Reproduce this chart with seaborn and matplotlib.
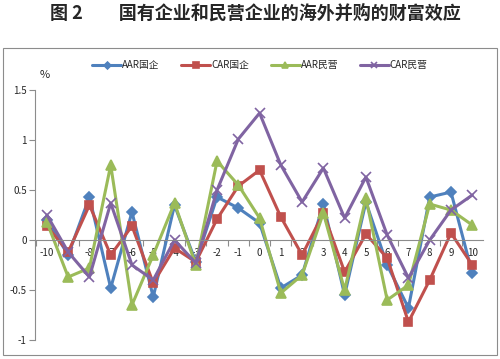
import matplotlib
matplotlib.use("Agg")
import matplotlib.pyplot as plt
import seaborn as sns
from matplotlib.patches import Rectangle

# event days and abnormal returns (%)
days = list(range(-10, 11))
aar_soe = [0.20, -0.15, 0.43, -0.48, 0.28, -0.57, 0.35, -0.22, 0.43, 0.32, 0.17,
           -0.48, -0.35, 0.36, -0.55, 0.38, -0.25, -0.68, 0.43, 0.48, -0.33]
car_soe = [0.14, -0.12, 0.35, -0.15, 0.14, -0.43, -0.08, -0.22, 0.21, 0.54, 0.70,
           0.23, -0.15, 0.27, -0.32, 0.06, -0.18, -0.82, -0.40, 0.07, -0.25]
aar_pri = [0.18, -0.37, -0.28, 0.75, -0.65, -0.15, 0.37, -0.25, 0.79, 0.55, 0.22,
           -0.53, -0.35, 0.27, -0.50, 0.42, -0.60, -0.45, 0.36, 0.30, 0.15]
car_pri = [0.25, -0.12, -0.37, 0.37, -0.25, -0.40, 0.00, -0.23, 0.50, 1.01, 1.27,
           0.75, 0.38, 0.72, 0.22, 0.63, 0.05, -0.38, 0.00, 0.30, 0.45]
series_names = ["AAR国企", "CAR国企", "AAR民营", "CAR民营"]

sns.set_style("white")
plt.rcParams["font.family"] = ["Noto Sans CJK SC", "DejaVu Sans"]

fig = plt.figure(figsize=(5, 3.59), dpi=100)
ax = fig.add_axes([0.07, 0.053, 0.90, 0.696])

styles = [("#4F81BD", "D", 5), ("#C0504D", "s", 6), ("#9BBB59", "^", 7), ("#8064A2", "x", 7)]
for vals, name, (col, mk, ms) in zip([aar_soe, car_soe, aar_pri, car_pri], series_names, styles):
    sns.lineplot(x=days, y=vals, ax=ax, color=col, marker=mk, markersize=ms,
                 markeredgecolor=col, markeredgewidth=1.2, linewidth=2.2, label=name)

ax.set_xlim(-10.56, 10.6)
ax.set_ylim(-1, 1.5)
ax.set_yticks([-1, -0.5, 0, 0.5, 1, 1.5])
ax.set_yticklabels(["-1", "-0.5", "0", "0.5", "1", "1.5"])
ax.set_xticks(days)
ax.set_xticklabels([str(d) for d in days])
ax.set_xticks([d + 0.5 for d in days[:-1]] + [-10.5], minor=True)

for s in ["top", "right"]:
    ax.spines[s].set_visible(False)
ax.spines["left"].set_color("#8c8c8c")
ax.spines["bottom"].set_color("#8c8c8c")
ax.spines["bottom"].set_position(("data", 0))
ax.spines["bottom"].set_bounds(-10.56, 10.5)

ax.tick_params(axis="y", which="major", direction="out", length=4, width=0.8,
               color="#8c8c8c", labelsize=7, pad=2, left=True)
ax.tick_params(axis="x", which="major", length=0, labelsize=7, pad=6)
ax.tick_params(axis="x", which="minor", direction="out", length=4, width=0.8,
               color="#8c8c8c", bottom=True)

ax.legend(loc="lower center", bbox_to_anchor=(0.5, 1.045), ncol=4, frameon=False,
          fontsize=7, handlelength=3, columnspacing=2.2, handletextpad=0.1,
          markerscale=0.7)

fig.text(0.09, 0.79, "%", fontsize=8, ha="center", va="center")
fig.text(0.51, 0.962, "图 2　　国有企业和民营企业的海外并购的财富效应",
         fontsize=13, fontweight="bold", ha="center", va="center")
fig.patches.append(Rectangle((0.006, 0.011), 0.988, 0.855, transform=fig.transFigure,
                             fill=False, edgecolor="#8c8c8c", linewidth=0.8))

fig.savefig("out.png", dpi=100)
